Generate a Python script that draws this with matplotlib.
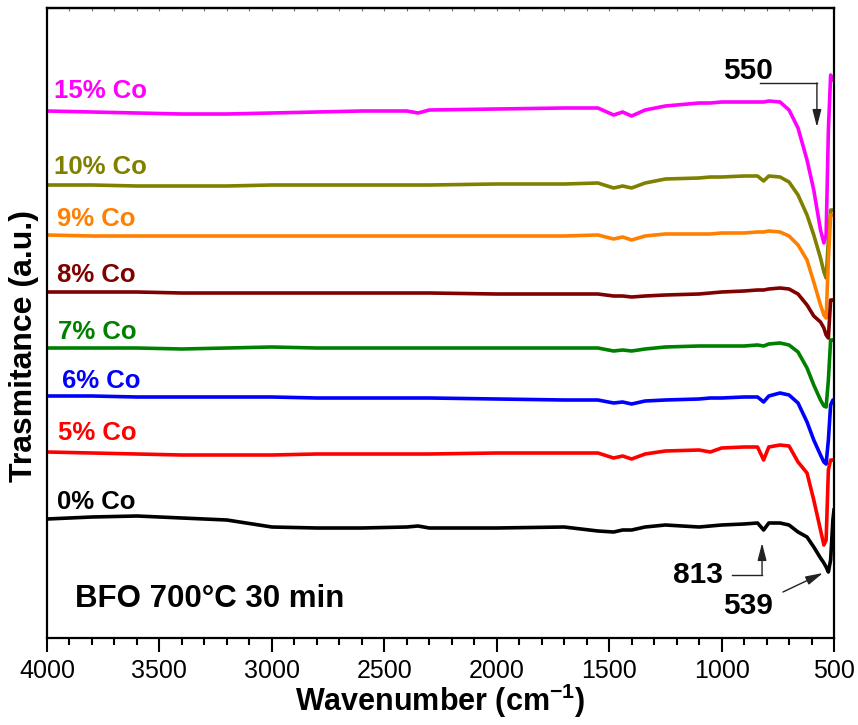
import numpy as np
import matplotlib
matplotlib.use('Agg')
import matplotlib.pyplot as plt
from matplotlib.ticker import MultipleLocator

plt.rcParams['font.family'] = ['Liberation Sans', 'DejaVu Sans']
plt.rcParams['mathtext.fontset'] = 'custom'
plt.rcParams['mathtext.rm'] = 'Liberation Sans'
plt.rcParams['mathtext.bf'] = 'Liberation Sans:bold'

# ---- data (wavenumber in cm^-1, transmittance in arbitrary offset units) ----
wavenumber = [4000, 3800, 3600, 3400, 3200, 3000, 2800, 2600, 2400, 2350, 2300,
              2000, 1700, 1550, 1480, 1440, 1400, 1340, 1250, 1100, 1050, 1000,
              900, 840, 813, 790, 740, 700, 660, 620, 590, 560, 545, 535, 525,
              515, 505, 500]

co15 = [527, 526, 525, 524, 524, 525, 526, 527, 527, 525, 528, 529, 530, 530, 523,
        526, 522, 528, 532, 535, 535, 536, 536, 536, 536, 537, 536, 528, 510, 478,
        448, 408, 395, 403, 508, 563, 558, 558]
co10 = [453, 453, 452, 452, 452, 453, 453, 453, 453, 453, 453, 454, 454, 455, 450,
        452, 450, 455, 459, 460, 461, 461, 462, 462, 457, 462, 461, 456, 443, 423,
        403, 380, 366, 360, 398, 428, 428, 428]
co9 = [403, 402, 402, 402, 402, 402, 402, 402, 402, 402, 402, 402, 402, 403, 399,
       401, 398, 402, 404, 404, 404, 405, 405, 406, 406, 407, 406, 402, 393, 378,
       356, 333, 323, 320, 378, 423, 423, 423]
co8 = [346, 346, 346, 345, 345, 345, 345, 345, 345, 345, 345, 344, 344, 344, 342,
       342, 341, 342, 343, 344, 345, 346, 347, 348, 348, 349, 350, 349, 344, 333,
       322, 316, 310, 303, 300, 338, 338, 338]
co7 = [290, 290, 290, 289, 290, 291, 290, 290, 290, 290, 290, 290, 290, 290, 287,
       288, 287, 289, 291, 292, 292, 292, 292, 293, 292, 294, 295, 293, 286, 270,
       253, 238, 232, 231, 258, 298, 298, 298]
co6 = [242, 242, 241, 241, 241, 241, 240, 240, 240, 240, 240, 239, 238, 238, 235,
       236, 234, 237, 238, 239, 240, 240, 241, 241, 236, 242, 245, 243, 235, 216,
       198, 183, 176, 174, 198, 233, 238, 238]
co5 = [186, 185, 184, 183, 183, 183, 184, 184, 184, 184, 184, 185, 185, 185, 180,
       182, 179, 184, 187, 188, 186, 190, 191, 191, 178, 191, 193, 192, 176, 165,
       138, 108, 93, 98, 168, 178, 178, 178]
co0 = [119, 121, 122, 120, 118, 111, 110, 110, 111, 112, 110, 110, 111, 107, 106,
       108, 108, 111, 113, 111, 112, 113, 114, 115, 108, 115, 115, 113, 106, 101,
       91, 80, 75, 71, 66, 78, 118, 128]

series = [co15, co10, co9, co8, co7, co6, co5, co0]
labels = ['15% Co', '10% Co', '9% Co', '8% Co', '7% Co', '6% Co', '5% Co', '0% Co']
colors = ['#FF00FF', '#808000', '#FF8000', '#800000', '#008000', '#0000FF',
          '#FF0000', '#000000']
label_pos = [(0.009, 0.857), (0.009, 0.737), (0.0127, 0.654), (0.0127, 0.5646),
             (0.014, 0.4746), (0.019, 0.397), (0.014, 0.314), (0.0127, 0.2048)]

fig = plt.figure(figsize=(8.58, 7.25), dpi=100)
ax = fig.add_axes([47 / 858, 87 / 725, 787 / 858, 630 / 725])

for vals, c in zip(series, colors):
    ax.plot(wavenumber, vals, color=c, lw=2.6, solid_joinstyle='round')

for (lx, ly), lab, c in zip(label_pos, labels, colors):
    ax.text(lx, ly, lab, transform=ax.transAxes, color=c, fontsize=18.5,
            fontweight='bold', ha='left', va='baseline')

ax.set_xlim(4000, 500)
ax.set_ylim(0, 630)
ax.set_yticks([])
ax.xaxis.set_major_locator(MultipleLocator(500))
ax.xaxis.set_minor_locator(MultipleLocator(100))
ax.tick_params(axis='x', which='major', direction='out', length=10, width=1.5,
               labelsize=18, pad=5)
ax.tick_params(axis='x', which='minor', direction='out', length=5, width=1.5)
for s in ax.spines.values():
    s.set_linewidth(1.6)

top = ax.secondary_xaxis('top')
top.xaxis.set_major_locator(MultipleLocator(500))
top.xaxis.set_minor_locator(MultipleLocator(100))
top.tick_params(axis='x', which='both', direction='in', length=2, width=0.8,
                labeltop=False, color='#777777')
top.spines['top'].set_linewidth(1.6)

ax.set_xlabel('Wavenumber (cm$^{\\mathbf{-1}}$)', fontsize=22, fontweight='bold')
ax.xaxis.set_label_coords(0.5, -0.07)
ax.set_ylabel('Trasmitance (a.u.)', fontsize=23, fontweight='bold')
ax.yaxis.set_label_coords(-0.01, 0.464)

ax.text(0.0356, 0.0492, 'BFO 700\u00b0C 30 min', transform=ax.transAxes,
        fontsize=22.5, fontweight='bold', ha='left', va='baseline')

# peak annotations
ax.text(0.859, 0.887, '550', transform=ax.transAxes, fontsize=21.5,
        fontweight='bold', ha='left', va='baseline')
ax.text(0.795, 0.0873, '813', transform=ax.transAxes, fontsize=21.5,
        fontweight='bold', ha='left', va='baseline')
ax.text(0.859, 0.038, '539', transform=ax.transAxes, fontsize=21.5,
        fontweight='bold', ha='left', va='baseline')

astyle = dict(arrowstyle='-|>,head_length=0.7,head_width=0.18', color='#222222',
              lw=1.0, mutation_scale=15, shrinkA=0, shrinkB=0)
ax.plot([829, 576], [555, 555], color='#222222', lw=1.0)
ax.annotate('', xy=(576, 511), xytext=(576, 555), arrowprops=astyle)
ax.plot([954, 820], [63, 63], color='#222222', lw=1.0)
ax.annotate('', xy=(820, 95), xytext=(820, 63), arrowprops=astyle)
ax.annotate('', xy=(549, 65), xytext=(727, 46), arrowprops=astyle)

fig.savefig('out.png', dpi=100)
